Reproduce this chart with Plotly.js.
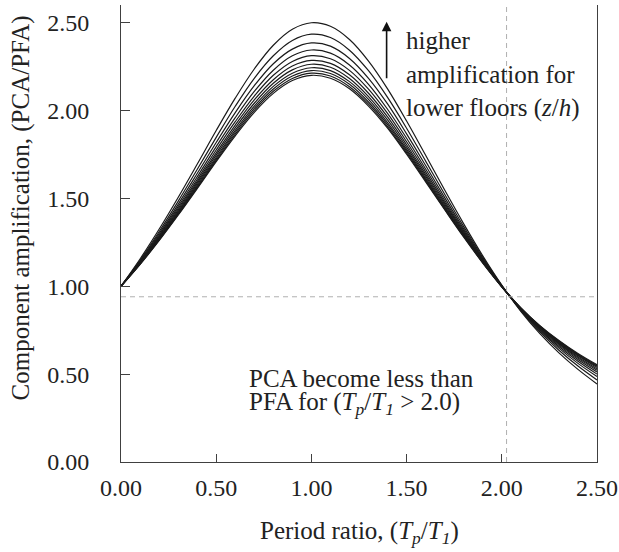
<!DOCTYPE html>
<html>
<head>
<meta charset="utf-8">
<script src="https://cdn.plot.ly/plotly-3.0.1.min.js"></script>
<style>html,body{margin:0;padding:0;background:#fff;}#chart{width:619px;height:552px;}</style>
</head>
<body>
<div id="chart"></div>
<script>
// Period ratio Tp/T1
const periodRatio = [0,0.1,0.2,0.3,0.4,0.5,0.6,0.7,0.8,0.9,1.0,1.1,1.2,1.3,1.4,1.5,1.6,1.7,1.8,1.9,2.0,2.1,2.2,2.3,2.4,2.5];
// Component amplification (PCA/PFA), one curve per floor level z/h (0.0 ... 1.0)
const floorLevels = [0.0,0.1,0.2,0.3,0.4,0.5,0.6,0.7,0.8,0.9,1.0];
const amp_z00 = [1,1.155,1.324,1.505,1.694,1.886,2.070,2.236,2.371,2.462,2.499,2.479,2.404,2.281,2.123,1.940,1.745,1.547,1.355,1.173,1.006,0.857,0.730,0.621,0.527,0.444];
const amp_z01 = [1,1.148,1.310,1.483,1.664,1.847,2.024,2.183,2.311,2.398,2.434,2.415,2.343,2.226,2.074,1.899,1.712,1.523,1.339,1.164,1.004,0.861,0.740,0.636,0.546,0.467];
const amp_z02 = [1,1.143,1.299,1.466,1.641,1.818,1.988,2.141,2.266,2.349,2.384,2.366,2.296,2.183,2.037,1.867,1.687,1.504,1.326,1.157,1.002,0.864,0.748,0.648,0.561,0.486];
const amp_z03 = [1,1.139,1.290,1.453,1.622,1.794,1.959,2.108,2.229,2.311,2.344,2.326,2.259,2.149,2.007,1.842,1.667,1.489,1.316,1.152,1.001,0.867,0.754,0.657,0.573,0.500];
const amp_z04 = [1,1.136,1.284,1.442,1.607,1.775,1.936,2.082,2.200,2.279,2.312,2.294,2.228,2.121,1.983,1.822,1.651,1.477,1.308,1.147,1.000,0.869,0.759,0.665,0.583,0.512];
const amp_z05 = [1,1.133,1.278,1.433,1.595,1.759,1.917,2.060,2.175,2.253,2.285,2.268,2.203,2.098,1.963,1.805,1.637,1.467,1.301,1.144,0.999,0.871,0.763,0.671,0.591,0.522];
const amp_z06 = [1,1.131,1.273,1.425,1.585,1.746,1.901,2.041,2.155,2.231,2.263,2.246,2.182,2.079,1.946,1.791,1.626,1.458,1.295,1.141,0.998,0.872,0.767,0.676,0.598,0.530];
const amp_z07 = [1,1.129,1.269,1.419,1.576,1.734,1.887,2.025,2.137,2.212,2.243,2.227,2.164,2.063,1.931,1.779,1.616,1.451,1.291,1.138,0.998,0.874,0.769,0.680,0.604,0.537];
const amp_z08 = [1,1.127,1.265,1.413,1.568,1.725,1.876,2.012,2.122,2.196,2.227,2.210,2.149,2.048,1.919,1.769,1.608,1.445,1.286,1.136,0.997,0.875,0.772,0.684,0.609,0.543];
const amp_z09 = [1,1.125,1.262,1.408,1.561,1.716,1.865,2.000,2.109,2.182,2.212,2.196,2.135,2.036,1.908,1.759,1.601,1.439,1.283,1.134,0.997,0.876,0.774,0.688,0.613,0.548];
const amp_z10 = [1,1.124,1.259,1.404,1.555,1.709,1.856,1.989,2.097,2.170,2.200,2.183,2.123,2.025,1.899,1.751,1.594,1.435,1.279,1.132,0.997,0.877,0.776,0.691,0.617,0.553];
const ampSeries = [amp_z00,amp_z01,amp_z02,amp_z03,amp_z04,amp_z05,amp_z06,amp_z07,amp_z08,amp_z09,amp_z10];
// Reference lines (crossing point)
const crossX = 2.025;
const crossY = 0.94;
const xTicks = [0,0.5,1.0,1.5,2.0,2.5];
const yTicks = [0,0.5,1.0,1.5,2.0,2.5];

const FONT = 'Liberation Serif';

const traces = ampSeries.map((ys, i) => ({
  x: periodRatio, y: ys, type: 'scatter', mode: 'lines',
  name: 'z/h = ' + floorLevels[i].toFixed(1),
  line: {color: '#1a1a1a', width: 1.2, shape: 'spline', smoothing: 1},
  hoverinfo: 'x+y'
}));

const axisColor = '#404040';
const txt = {family: FONT, size: 25, color: '#222'};
const tickTxt = {family: FONT, size: 24, color: '#222'};
const layout = {
  width: 619, height: 552,
  margin: {l: 121, r: 22, t: 5, b: 90},
  paper_bgcolor: '#fff', plot_bgcolor: '#fff',
  showlegend: false,
  font: {family: FONT, size: 24, color: '#222'},
  xaxis: {
    range: [0, 2.5], tickvals: xTicks, tickformat: '.2f',
    ticks: 'inside', ticklen: 8, tickwidth: 1, tickcolor: axisColor,
    showline: true, linecolor: axisColor, linewidth: 1, mirror: false,
    showgrid: false, zeroline: false,
    tickfont: tickTxt,
    ticklabelstandoff: 4
  },
  yaxis: {
    range: [0, 2.6], tickvals: yTicks, tickformat: '.2f',
    ticks: 'inside', ticklen: 9, tickwidth: 1, tickcolor: axisColor,
    showline: true, linecolor: axisColor, linewidth: 1, mirror: true,
    showgrid: false, zeroline: false,
    tickfont: tickTxt,
    ticklabelstandoff: 26
  },
  shapes: [
    {type: 'line', xref: 'x', yref: 'paper', x0: crossX, x1: crossX, y0: 0, y1: 1,
     line: {color: '#b0b0b0', width: 1, dash: '5px,4px'}},
    {type: 'line', xref: 'paper', yref: 'y', x0: 0, x1: 1, y0: crossY, y1: crossY,
     line: {color: '#b0b0b0', width: 1, dash: '5px,4px'}}
  ],
  annotations: [
    {xref: 'paper', yref: 'paper', x: 0.5, y: -0.155, xanchor: 'center', yanchor: 'middle', showarrow: false,
     text: 'Period ratio, (<i>T<sub>p</sub></i>/<i>T<sub>1</sub></i>)', font: txt},
    {xref: 'paper', yref: 'paper', x: -0.21, y: 0.555, xanchor: 'center', yanchor: 'middle', showarrow: false, textangle: -90,
     text: 'Component amplification, (PCA/PFA)', font: txt},
    {xref: 'x', yref: 'y', x: 1.395, y: 2.505, ax: 0, ay: 58, showarrow: true, arrowhead: 2, arrowsize: 1.2, arrowwidth: 1.6, arrowcolor: '#111', text: ''},
    {xref: 'x', yref: 'y', x: 1.485, y: 2.40, xanchor: 'left', yanchor: 'middle', showarrow: false, align: 'left',
     text: 'higher', font: txt},
    {xref: 'x', yref: 'y', x: 1.485, y: 2.205, xanchor: 'left', yanchor: 'middle', showarrow: false, align: 'left',
     text: 'amplification for', font: txt},
    {xref: 'x', yref: 'y', x: 1.485, y: 2.013, xanchor: 'left', yanchor: 'middle', showarrow: false, align: 'left',
     text: 'lower floors (<i>z</i>/<i>h</i>)', font: txt},
    {xref: 'x', yref: 'y', x: 0.66, y: 0.476, xanchor: 'left', yanchor: 'middle', showarrow: false, align: 'left',
     text: 'PCA become less than', font: txt},
    {xref: 'x', yref: 'y', x: 0.66, y: 0.335, xanchor: 'left', yanchor: 'middle', showarrow: false, align: 'left',
     text: 'PFA for (<i>T<sub>p</sub></i>/<i>T<sub>1</sub></i> > 2.0)', font: txt}
  ]
};

Plotly.newPlot('chart', traces, layout, {displayModeBar: false, staticPlot: true});
</script>
</body>
</html>
